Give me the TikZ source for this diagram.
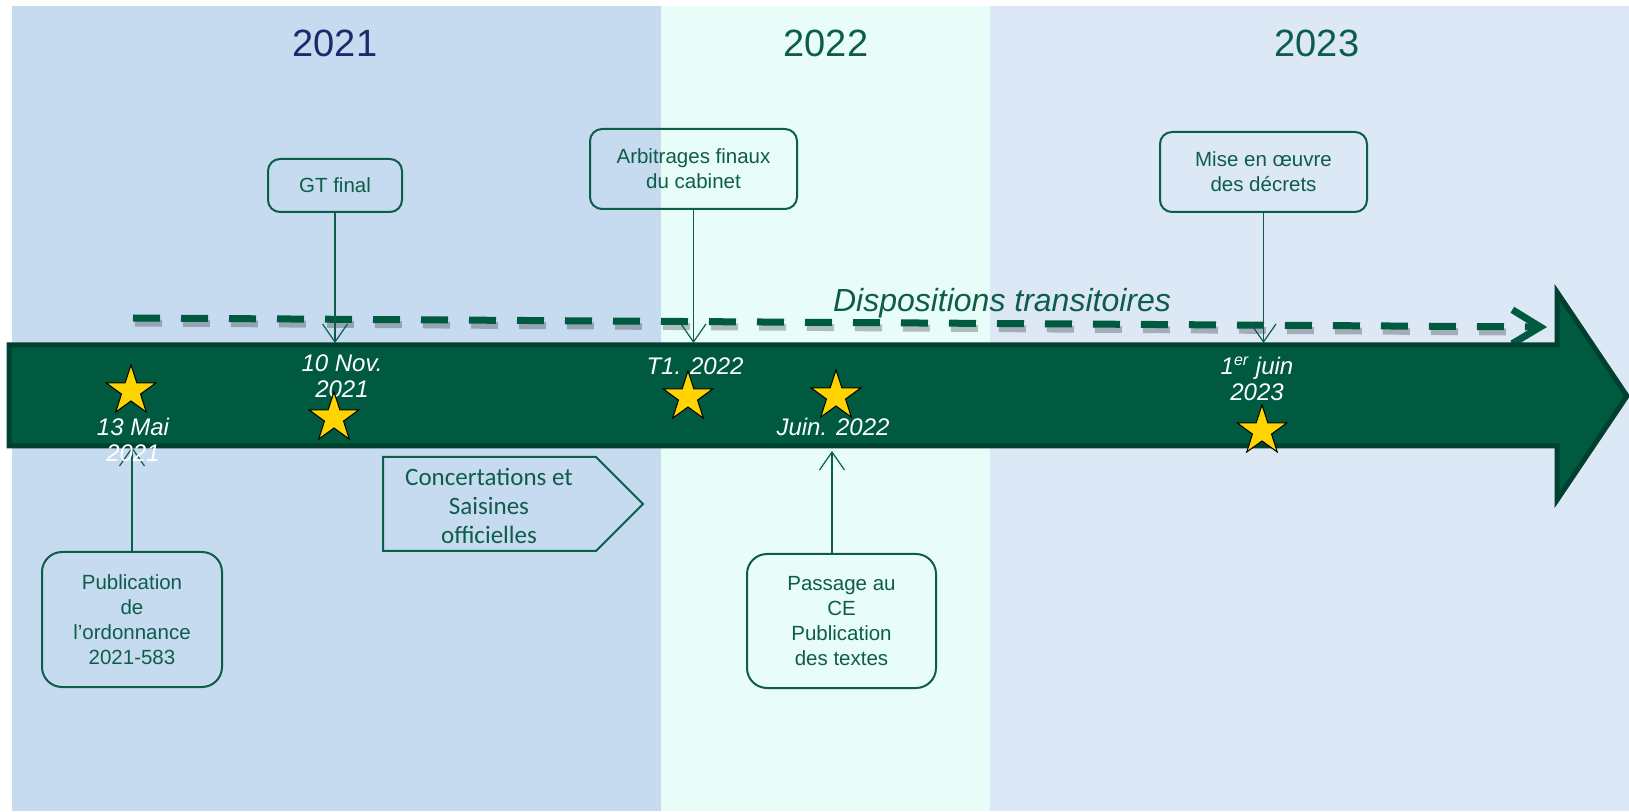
\documentclass[tikz,border=0pt]{standalone}
\usepackage{fontspec}
\setmainfont{Liberation Sans}
\newfontfamily\calibri{Carlito}
\usetikzlibrary{positioning,shapes.geometric,arrows.meta}
\definecolor{panelA}{HTML}{C6DBEF}
\definecolor{panelB}{HTML}{E8FDF8}
\definecolor{panelC}{HTML}{DCE8F5}
\definecolor{dkgreen}{HTML}{005A40}
\definecolor{edgegreen}{HTML}{00402E}
\definecolor{txtgreen}{HTML}{0D5D4A}
\definecolor{navy}{HTML}{1B2A6B}
\definecolor{gold}{HTML}{FFD400}

\begin{document}
\begin{tikzpicture}[x=0.5pt,y=-0.5pt,
  box/.style={draw=txtgreen,line width=1pt,rounded corners=6pt,text=txtgreen,
    align=center,font=\fontsize{10.25}{12.5}\selectfont,inner sep=0pt},
  year/.style={font=\fontsize{19}{22}\selectfont},
  datelbl/.style={text=white,align=center,inner sep=0pt,
    font=\fontsize{12}{13}\selectfont\itshape},
  jalon/.style={star,star points=5,star point ratio=2.6,minimum size=26pt,
    inner sep=0pt,fill=gold,draw=black,line width=0.5pt},
  conn/.style={draw=txtgreen,line width=0.6pt,
    -{Straight Barb[length=9pt,width=12.5pt]}}]

  \fill[white] (0,0) rectangle (1629,812);
  \useasboundingbox (0,0) rectangle (1629,812);

  % year panels
  \fill[panelA] (12,6) rectangle (661,811);
  \fill[panelB] (661,6) rectangle (990,811);
  \fill[panelC] (990,6) rectangle (1629,811);
  \node[year,text=navy] (y21) at (335,43) {2021};
  \node[year,text=txtgreen] (y22) at (826,43) {2022};
  \node[year,text=txtgreen] (y23) at (1317,43) {2023};

  % boxes
  \node[box,minimum width=67pt,minimum height=26.5pt] (gt) at (335,185.5) {GT final};
  \node[box,minimum width=103.5pt,minimum height=40pt] (arb) at (693.5,169) {Arbitrages finaux\\du cabinet};
  \node[box,minimum width=103.5pt,minimum height=40pt] (mise) at (1263.5,172) {Mise en œuvre\\des décrets};
  \node[box,rounded corners=10pt,minimum width=90pt,minimum height=67.5pt] (pub) at (132,619.5) {Publication\\de\\l’ordonnance\\2021-583};
  \node[box,rounded corners=10pt,minimum width=94.5pt,minimum height=67pt] (pas) at (841.5,621) {Passage au\\CE\\Publication\\des textes};

  \node[text=txtgreen,align=center,font=\calibri\fontsize{12.5}{14.5}\selectfont] (conc) at (489,506) {Concertations et\\Saisines\\officielles};
  \draw[txtgreen,line width=1pt] (383,457) -- (596,457) -- (643,504) -- (596,551) -- (383,551) -- cycle;

  % transitional line
  \coordinate (dstart) at (133,318);
  \coordinate (dend) at (1547,327);
  \draw[black,opacity=0.25,line width=3.5pt,dash pattern=on 13.5pt off 10.5pt]
    ([shift={(2,5)}]dstart) -- ([shift={(-34,5)}]dend);
  \draw[dkgreen,line width=3.5pt,dash pattern=on 13.5pt off 10.5pt,
    -{Straight Barb[length=14pt,width=17pt]}] (dstart) -- (dend);
  \node[text=txtgreen,font=\fontsize{16}{18}\selectfont\itshape] (disp) at (1002,303) {Dispositions transitoires};

  % main arrow
  \draw[fill=dkgreen,draw=edgegreen,line width=2.5pt] (9,345) -- (1557,345) -- (1557,292)
    -- (1627,396) -- (1557,500) -- (1557,446) -- (9,446) -- cycle;

  \coordinate (bodytop) at (0,343);
  \coordinate (bodybot) at (0,447);
  \coordinate (juin) at (832,451);
  \draw[conn] (gt) -- (gt |- bodytop);
  \draw[conn] (arb) -- (arb |- bodytop);
  \draw[conn] (mise) -- (mise |- bodytop);
  \draw[conn] (pub) -- (pub |- bodybot);
  \draw[conn] (pas.north -| juin) -- (juin);

  % dates
  \node[datelbl] (d1) at (133,440) {13 Mai\\2021};
  \node[datelbl] (d2) at (342,376) {10 Nov.\\2021};
  \node[datelbl] (d3) at (695,366) {T1. 2022};
  \node[datelbl] (d4) at (833,427) {Juin. 2022};
  \node[datelbl] (d5) at (1257,379) {1\textsuperscript{er} juin\\2023};

  \node[jalon] (s1) at (131,391) {};
  \node[jalon] (s2) at (334,418) {};
  \node[jalon] (s3) at (688,397) {};
  \node[jalon] (s4) at (836,396) {};
  \node[jalon] (s5) at (1262,431) {};
\end{tikzpicture}
\end{document}
